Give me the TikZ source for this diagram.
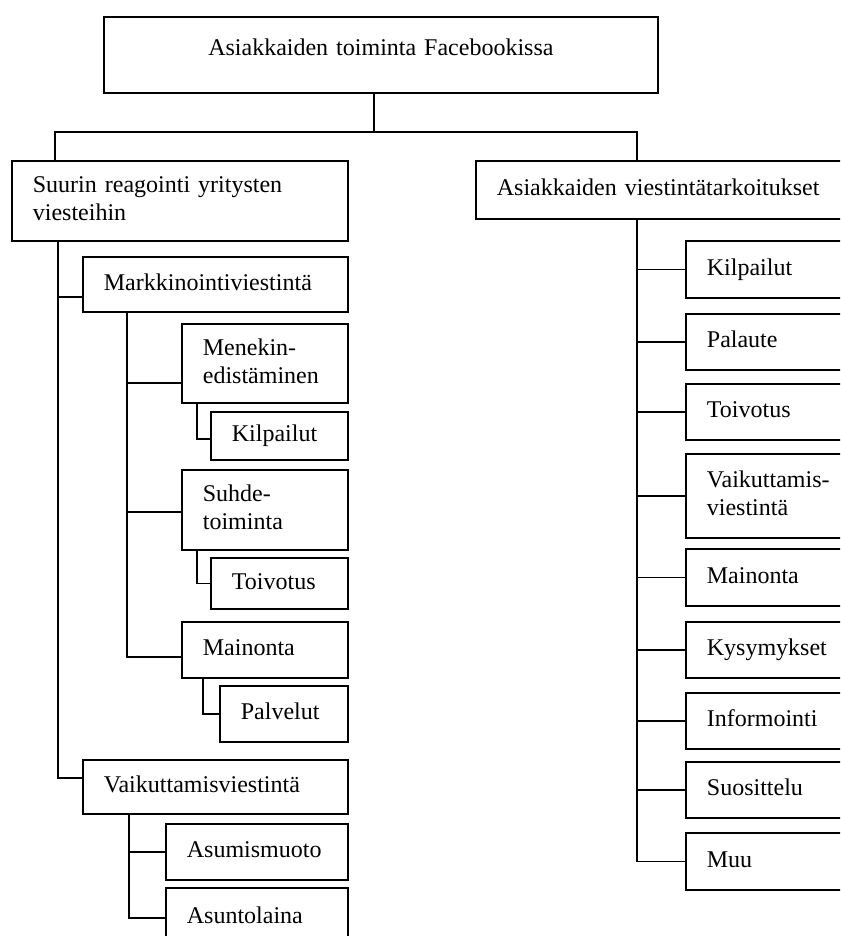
\documentclass[tikz,border=0pt]{standalone}
\usepackage{fontspec}
\setmainfont{Liberation Serif}
\tikzset{
  box/.style={draw, line width=0.9pt, anchor=north west, align=left,
    inner xsep=10.5pt, inner ysep=0pt, font=\fontsize{12pt}{14pt}\selectfont,
    execute at begin node=\strut, execute at end node=\strut},
  link/.style={line width=0.9pt}
}
\begin{document}
\begin{tikzpicture}[x=0.5pt,y=-0.5pt]
\path[use as bounding box, clip] (0,0) rectangle (840,936);
\node[box, align=center, minimum width=277pt, minimum height=38pt, text width=256pt,
  execute at end node={\rule[-9.6pt]{0pt}{0pt}}] (top) at (103,16) {Asiakkaiden toiminta Facebookissa};
% vasen haara
\node[box, minimum width=168pt, minimum height=40pt, text width=147pt] (suurin) at (11,160) {Suurin reagointi yritysten\\viesteihin};
\node[box, minimum width=132.5pt, minimum height=27.5pt, text width=111.5pt] (markk) at (82,256) {Markkinointiviestintä};
\node[box, minimum width=83pt, minimum height=39.5pt, text width=62pt] (menekin) at (181,323) {Menekin-\\edistäminen};
\node[box, minimum width=68.5pt, minimum height=24pt, text width=47.5pt] (kilpA) at (210,411) {Kilpailut};
\node[box, minimum width=83pt, minimum height=40pt, text width=62pt] (suhde) at (181,469) {Suhde-\\toiminta};
\node[box, minimum width=68.5pt, minimum height=25.5pt, text width=47.5pt] (toivA) at (210,557) {Toivotus};
\node[box, minimum width=83pt, minimum height=28pt, text width=62pt] (mainA) at (181,621) {Mainonta};
\node[box, minimum width=64pt, minimum height=28pt, text width=43pt] (palv) at (219,685) {Palvelut};
\node[box, minimum width=132.5pt, minimum height=27pt, text width=111.5pt] (vaikA) at (82,759) {Vaikuttamisviestintä};
\node[box, minimum width=91pt, minimum height=28pt, text width=70pt] (asum) at (165,823) {Asumismuoto};
\node[box, minimum width=91pt, minimum height=30pt, text width=70pt] (asunt) at (165,887) {Asuntolaina};
% oikea haara
\node[box, minimum width=192.5pt, minimum height=29pt, text width=171.5pt] (tark) at (475,160) {Asiakkaiden viestintätarkoitukset};
\foreach \nm/\yy/\hh/\txt in {kilpB/240/28.5/Kilpailut, pal/313/28/Palaute, toivB/383/28/Toivotus,
    vaikB/453/42/{Vaikuttamis-\\viestintä}, mainB/548/28.5/Mainonta, kys/621/28/Kysymykset,
    inf/692/28/Informointi, suos/761/28/Suosittelu, muu/832/28.5/Muu}
  \node[box, minimum width=87.5pt, minimum height=\hh pt, text width=66.5pt] (\nm) at (685,\yy) {\txt};

\draw[link] ([xshift=-3.5pt]top.south) -- ++(0,38) coordinate (bus);
\draw[link] (bus) -| ([xshift=22pt]suurin.north west);
\draw[link] (bus) -| ([xshift=81pt]tark.north west);
\draw[link] ([xshift=23.5pt]suurin.south west) |- ([yshift=-6.25pt]markk.west);
\draw[link] ([xshift=23.5pt]suurin.south west) |- ([yshift=4.5pt]vaikA.west);
\draw[link] ([xshift=22.5pt]markk.south west) |- ([yshift=-9.75pt]menekin.west);
\draw[link] ([xshift=22.5pt]markk.south west) |- ([yshift=-1pt]suhde.west);
\draw[link] ([xshift=22.5pt]markk.south west) |- ([yshift=-3.5pt]mainA.west);
\draw[link] ([xshift=8pt]menekin.south west) |- ([yshift=-1.5pt]kilpA.west);
\draw[link] ([xshift=8pt]suhde.south west) |- (toivA.west);
\draw[link] ([xshift=11pt]mainA.south west) |- (palv.west);
\draw[link] ([xshift=23.5pt]vaikA.south west) |- (asum.west);
\draw[link] ([xshift=23.5pt]vaikA.south west) |- (asunt.west);
\foreach \nm in {kilpB, pal, toivB, vaikB, mainB, kys, inf, suos, muu}
  \draw[link] ([xshift=81pt]tark.south west) |- (\nm.west);
\end{tikzpicture}
\end{document}
